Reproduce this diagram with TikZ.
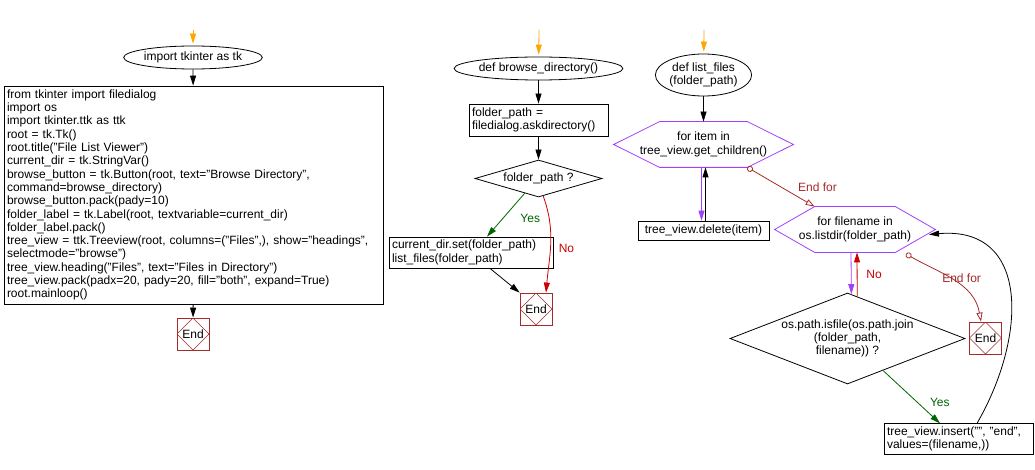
\documentclass[tikz,border=0pt]{standalone}
\usepackage{fontspec}
\setmainfont{Liberation Sans}
\usetikzlibrary{shapes.geometric, arrows.meta}

\definecolor{startorange}{HTML}{FFA500}
\definecolor{endbrown}{HTML}{A52A2A}
\definecolor{loopviolet}{HTML}{A040FF}
\definecolor{yesgreen}{HTML}{006400}
\definecolor{nored}{HTML}{CC0000}

% hexagon frame round a for-loop node
\newcommand{\hexframe}[2]{\draw[loopviolet] (#1.west) -- ([xshift=#2]#1.north west) -- ([xshift=-#2]#1.north east) -- (#1.east) -- ([xshift=-#2]#1.south east) -- ([xshift=#2]#1.south west) -- cycle;}

\begin{document}
\begin{tikzpicture}
            [x=1pt, y=1pt, line width=0.8pt, >={Triangle[length=10pt,width=6pt]},
             font=\fontsize{12}{13.3}\selectfont,
             terminal/.style={shape=ellipse, draw=black, inner sep=0pt, align=center},
             stepbox/.style={shape=rectangle, draw=black, inner sep=3pt, align=left},
             decision/.style={shape=diamond, draw=black, inner sep=0pt, align=center},
             forloop/.style={shape=rectangle, draw=none, inner sep=0pt, align=center, minimum height=45pt},
             endbox/.style={shape=rectangle, draw=endbrown, minimum size=32pt, inner sep=0pt,
               path picture={\draw[endbrown, thin] (path picture bounding box.north) -- (path picture bounding box.east) -- (path picture bounding box.south) -- (path picture bounding box.west) -- cycle;}},
             startarrow/.style={->, color=startorange, shorten >=2pt},
             flow/.style={->, color=black},
             endfor/.style={color=endbrown, {Circle[open,length=6pt,width=6pt]}-{Triangle[open,length=9pt,width=6pt]}},
             yeslabel/.style={text=yesgreen},
             nolabel/.style={text=nored},
             endforlabel/.style={text=endbrown}]
            \useasboundingbox (0,0) rectangle (1035,-470);

            \coordinate (s1) at (193,-30);
            \coordinate (s2) at (539,-30);
            \coordinate (s3) at (704,-30);

            % main program
            \node[terminal, minimum width=116pt, minimum height=23pt] (imp) at (193,-57.5) {import tkinter as tk};
            \node[stepbox, text width=373pt, minimum height=218pt] (setup) at (193.5,-195) {from tkinter import filedialog\\
import os\\
import tkinter.ttk as ttk\\
root = tk.Tk()\\
root.title("File List Viewer")\\
current\_dir = tk.StringVar()\\
browse\_button = tk.Button(root, text="Browse Directory",\\
command=browse\_directory)\\
browse\_button.pack(pady=10)\\
folder\_label = tk.Label(root, textvariable=current\_dir)\\
folder\_label.pack()\\
tree\_view = ttk.Treeview(root, columns=("Files",), show="headings",\\
selectmode="browse")\\
tree\_view.heading("Files", text="Files in Directory")\\
tree\_view.pack(padx=20, pady=20, fill="both", expand=True)\\
root.mainloop()};
            \node[endbox] (end1) at (193,-334) {End};

            % browse_directory
            \node[terminal, minimum width=137pt, minimum height=23pt] (browse) at (538.5,-68.5) {def browse\_directory()};
            \node[stepbox, text width=133pt, minimum height=32pt] (ask) at (538.5,-120) {folder\_path =\\filedialog.askdirectory()};
            \node[decision, aspect=3.4, minimum width=127pt, minimum height=37pt] (haspath) at (538.5,-178.5) {folder\_path ?};
            \node[stepbox, text width=158pt, minimum height=31pt] (setdir) at (471,-252.5) {current\_dir.set(folder\_path)\\list\_files(folder\_path)};
            \node[endbox] (end2) at (536,-309) {End};

            % list_files
            \node[terminal, minimum width=91pt, minimum height=42pt] (listf) at (703.5,-75) {def list\_files\\(folder\_path)};
            \node[forloop, minimum width=179pt] (items) at (703.5,-144.5) {for item in\\tree\_view.get\_children()};
            \node[stepbox, text width=125pt, minimum height=19pt, inner ysep=0pt, align=center] (remove) at (703.5,-230.5) {tree\_view.delete(item)};
            \node[forloop, minimum width=160pt] (names) at (855,-229.5) {for filename in\\os.listdir(folder\_path)};
            \node[decision, aspect=2.58, minimum width=235pt, minimum height=91pt] (isfile) at (847.5,-338.5) {os.path.isfile(os.path.join\\(folder\_path,\\filename)) ?};
            \node[endbox] (end3) at (985.5,-338) {End};
            \node[stepbox, text width=143pt, minimum height=30pt] (insert) at (958.5,-439) {tree\_view.insert("", "end",\\values=(filename,))};

            \hexframe{items}{46pt}
            \hexframe{names}{40pt}

            \path [startarrow] (s1) edge (imp);
            \path [startarrow] (s2) edge (browse);
            \path [startarrow] (s3) edge (listf);

            \path [flow] (imp) edge (setup);
            \path [flow] (setup) edge (end1);
            \path [flow] (browse) edge (ask);
            \path [flow] (ask) edge (haspath);
            \path [->, color=yesgreen] (haspath.-133) edge node[yeslabel, pos=0.57, xshift=27pt] (yes1) {Yes} ([xshift=16pt]setdir.north);
            \path [->, color=nored] (haspath.-75) edge [out=-70, in=85] node[nolabel, pos=0.55, xshift=16pt] (no1) {No} ([xshift=10pt]end2.north);
            \path [flow] ([xshift=19pt]setdir.south) edge (end2.north west);

            \path [flow] (listf) edge (items);
            \path [->, color=loopviolet] ([xshift=-2pt]items.south) edge ([xshift=-2pt]remove.north);
            \path [flow] ([xshift=2pt]remove.north) edge ([xshift=2pt]items.south);
            \path [endfor] ([xshift=-46pt]items.south east) edge node[endforlabel, pos=0.85, xshift=13pt, yshift=14pt] (done1) {End for} ([xshift=40pt]names.north west);
            \path [->, color=loopviolet] ([xshift=-4pt]names.south) edge (isfile.85);
            \path [->, color=nored] (isfile.77) edge node[nolabel, pos=0.5, xshift=17pt] (no2) {No} ([xshift=2pt]names.south);
            \path [endfor] ([xshift=51pt,yshift=-1.5pt]names.south) edge [out=-30, in=100] node[endforlabel, pos=0.45, xshift=12pt] (done2) {End for} ([xshift=-4.5pt]end3.north);
            \path [->, color=yesgreen] (isfile.-42) edge node[yeslabel, pos=0.61, xshift=22pt] (yes2) {Yes} ([xshift=-18.5pt]insert.north);
            \path [flow] ([xshift=18.5pt]insert.north) edge [out=60, in=5, looseness=1.33] ([xshift=74pt,yshift=-5pt]names.center);
        \end{tikzpicture}
\end{document}
